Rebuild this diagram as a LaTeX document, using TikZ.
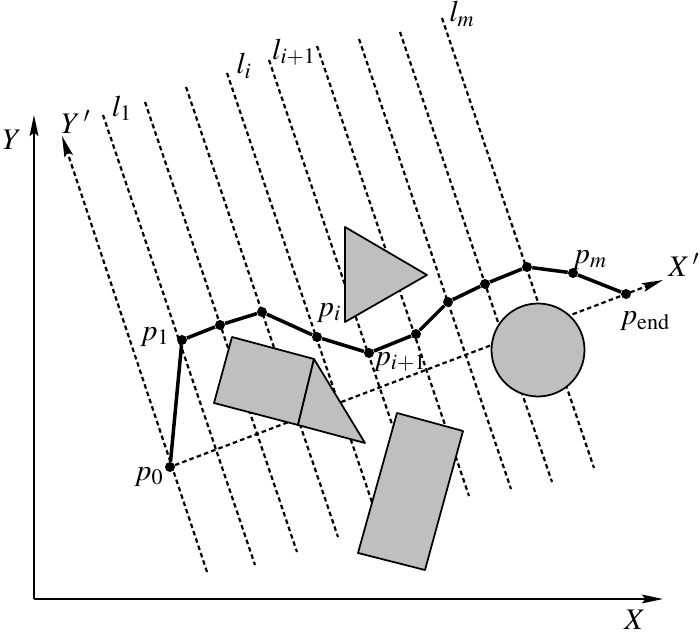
\documentclass[tikz,border=0pt]{standalone}
\usepackage{mathptmx}
\usetikzlibrary{arrows.meta, calc}
\tikzset{
    >={Stealth[length=12pt, width=5pt, inset=2pt]},
    % Lines
    axis/.style={->, line width=1.1pt},
    scan/.style={line width=1.25pt, dash pattern=on 2.6pt off 1.8pt},
    route/.style={line width=2pt, line join=round},
    % Shapes
    obst/.style={draw, line width=1pt, fill=gray!50, line join=round},
    dot/.style={circle, fill=black, inner sep=0pt, minimum size=0.2cm},
    % Labels
    lbl/.style={inner sep=0pt, font=\fontsize{17}{20}\selectfont}
}

\begin{document}
\begin{tikzpicture}[x=0.02cm, y=-0.02cm]
\useasboundingbox (0,0) rectangle (700,634);

% fixed axes
\coordinate (O) at (34,599);
\coordinate (ytop) at (34,115);
\coordinate (xend) at (663,599);
\draw[axis] (O) -- (ytop);
\draw[axis] (O) -- (xend);

% scan lines l_1 ... l_m
\foreach \tx/\ty [count=\k] in {103/115,145/102,186/87,227/73,269/60,317/46,359/39,400/32,442/18}{
    \coordinate (t\k) at (\tx,\ty);
    \coordinate (b\k) at ($(t\k)+(152,450)$);
    \draw[scan] (t\k) -- (b\k);
}

% rotated axes
\node[dot] (p0) at (170,467) {};
\coordinate (ybot) at (207,572);
\coordinate (ytip) at (62,136);
\coordinate (xtip) at (663,280);
\draw[scan, ->] (ybot) -- (ytip);
\draw[scan, ->] (p0) -- (xtip);

% obstacles
\draw[obst] (345,227) -- (427,275) -- (345,322) -- cycle;
\draw[obst] (232,337) -- (314,359) -- (298,425) -- (214,403) -- cycle;
\draw[obst] (314,359) -- (365,443) -- (298,425) -- cycle;
\draw[obst] (397,413) -- (463,431) -- (425,570) -- (358,553) -- cycle;
\draw[obst] (538,350) circle[radius=0.93cm];

% path points
\node[dot] (p1) at (182,340) {};
\node[dot] (q2) at (220,325) {};
\node[dot] (q3) at (262,312) {};
\node[dot] (pi) at (317,337) {};
\node[dot] (pj) at (369,353) {};
\node[dot] (q6) at (416,334) {};
\node[dot] (q7) at (448,302) {};
\node[dot] (q8) at (485,284) {};
\node[dot] (q9) at (527,267) {};
\node[dot] (pm) at (573,273) {};
\node[dot] (pend) at (626,294) {};

\draw[route] (p0) -- (p1) -- (q2) -- (q3) -- (pi) -- (pj) -- (q6)
    -- (q7) -- (q8) -- (q9) -- (pm) -- (pend);

% labels
\node[lbl] (lY) at (12,140) {$Y$};
\node[lbl] (lX) at (635,620) {$X$};
\node[lbl] (lYr) at (76,122) {$Y\,'$};
\node[lbl] (lXr) at (684,265) {$X\,'$};
\node[lbl] (ll1) at (122,108) {$l_1$};
\node[lbl] (lli) at (244,66) {$l_i$};
\node[lbl] (llj) at (294,52) {$l_{i+1}$};
\node[lbl] (llm) at (462,14) {$l_m$};
\node[lbl] (lp0) at (149,477) {$p_0$};
\node[lbl] (lp1) at (155,337) {$p_1$};
\node[lbl] (lpi) at (329,313) {$p_i$};
\node[lbl] (lpj) at (400,362) {$p_{i+1}$};
\node[lbl] (lpm) at (590,260) {$p_m$};
\node[lbl] (lpend) at (645,321) {$p_{\mathrm{end}}$};

\end{tikzpicture}
\end{document}
